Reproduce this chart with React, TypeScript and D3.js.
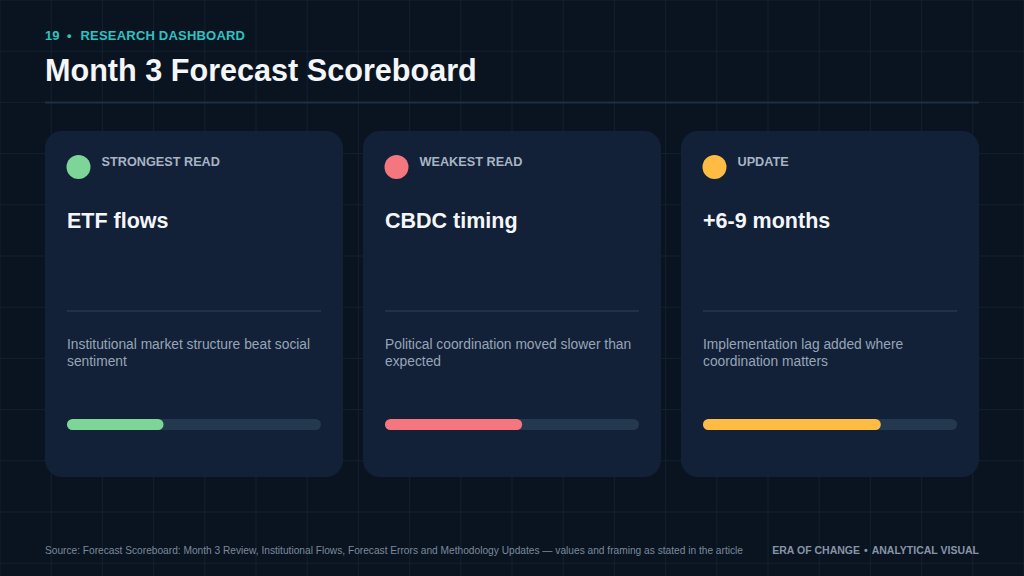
import React from "react";
import * as d3 from "d3";

// chart data
const cardKeys = ["strong", "weak", "update"];
const cardLabels = ["STRONGEST READ", "WEAKEST READ", "UPDATE"];
const cardTitles = ["ETF flows", "CBDC timing", "+6-9 months"];
const cardNotes = [
  ["Institutional market structure beat social", "sentiment"],
  ["Political coordination moved slower than", "expected"],
  ["Implementation lag added where", "coordination matters"],
];
const cardScores = [0.38, 0.54, 0.7];
const cardColors = ["#7dd698", "#f4777f", "#ffbc45"];

const W = 1024;
const H = 576;
const FONT = "'Liberation Sans', Arial, Helvetica, sans-serif";

const App = () => {
  const xCard = d3
    .scaleBand<string>()
    .domain(cardKeys)
    .range([45, 979])
    .paddingInner(20 / 318)
    .paddingOuter(0);

  const cardTop = 131;
  const cardH = 346;
  const inner = 22; // left/right padding inside card
  const trackW = xCard.bandwidth() - inner * 2;
  const xBar = d3.scaleLinear().domain([0, 1]).range([0, trackW]);

  const gridX = d3.range(0, W + 1, 51.2);
  const gridY = d3.range(0, H + 1, 51.2);

  return (
    <svg
      width={W}
      height={H}
      style={{ position: "fixed", left: 0, top: 0, display: "block" }}
      fontFamily={FONT}
    >
      <rect width={W} height={H} fill="#0a1421" />
      {/* background grid */}
      <g stroke="#13202f" strokeWidth={1}>
        {gridX.map((x) => (
          <line key={"gx" + x} x1={x} x2={x} y1={0} y2={H} />
        ))}
        {gridY.map((y) => (
          <line key={"gy" + y} x1={0} x2={W} y1={y} y2={y} />
        ))}
      </g>

      {/* header */}
      <g fill="#2fc2c0" fontWeight="bold" fontSize={13}>
        <text x={45} y={39.5}>19</text>
        <text x={67} y={39.5}>•</text>
        <text x={80.5} y={39.5} letterSpacing={0.2}>
          RESEARCH DASHBOARD
        </text>
      </g>
      <text x={45} y={80.5} fill="#f4f6fa" fontWeight="bold" fontSize={30.6}>
        Month 3 Forecast Scoreboard
      </text>
      <line x1={45} x2={979} y1={102.5} y2={102.5} stroke="#1e2e42" strokeWidth={2} />

      {/* cards */}
      {cardKeys.map((k, i) => {
        const x0 = xCard(k) ?? 0;
        const lx = x0 + inner;
        return (
          <g key={k}>
            <rect x={x0} y={cardTop} width={xCard.bandwidth()} height={cardH} rx={17} fill="#122137" />
            <circle cx={x0 + 33.5} cy={167} r={12} fill={cardColors[i]} />
            <text x={x0 + 56.5} y={165.5} fill="#a8b4c5" fontWeight="bold" fontSize={12.7}>
              {cardLabels[i]}
            </text>
            <text x={lx} y={228} fill="#f4f6fa" fontWeight="bold" fontSize={21.5}>
              {cardTitles[i]}
            </text>
            <line x1={lx} x2={lx + trackW} y1={311} y2={311} stroke="#26384f" strokeWidth={1.5} />
            {cardNotes[i].map((line, j) => (
              <text key={j} x={lx} y={349 + j * 17} fill="#97a5b7" fontSize={13.8}>
                {line}
              </text>
            ))}
            <rect x={lx} y={419} width={xBar(1)} height={11} rx={5.5} fill="#243850" />
            <rect x={lx} y={419} width={xBar(cardScores[i])} height={11} rx={5.5} fill={cardColors[i]} />
          </g>
        );
      })}

      {/* footer */}
      <text
        x={45}
        y={553.5}
        fill="#7c899b"
        fontSize={10.5}
        textLength={698}
        lengthAdjust="spacingAndGlyphs"
      >
        Source: Forecast Scoreboard: Month 3 Review, Institutional Flows, Forecast Errors and Methodology Updates — values and framing as stated in the article
      </text>
      <text x={979} y={553.5} fill="#8794a6" fontWeight="bold" fontSize={10.5} textAnchor="end">
        <tspan>ERA OF CHANGE</tspan>
        <tspan dx={4}>•</tspan>
        <tspan dx={4}>ANALYTICAL VISUAL</tspan>
      </text>
    </svg>
  );
};

export default App;
